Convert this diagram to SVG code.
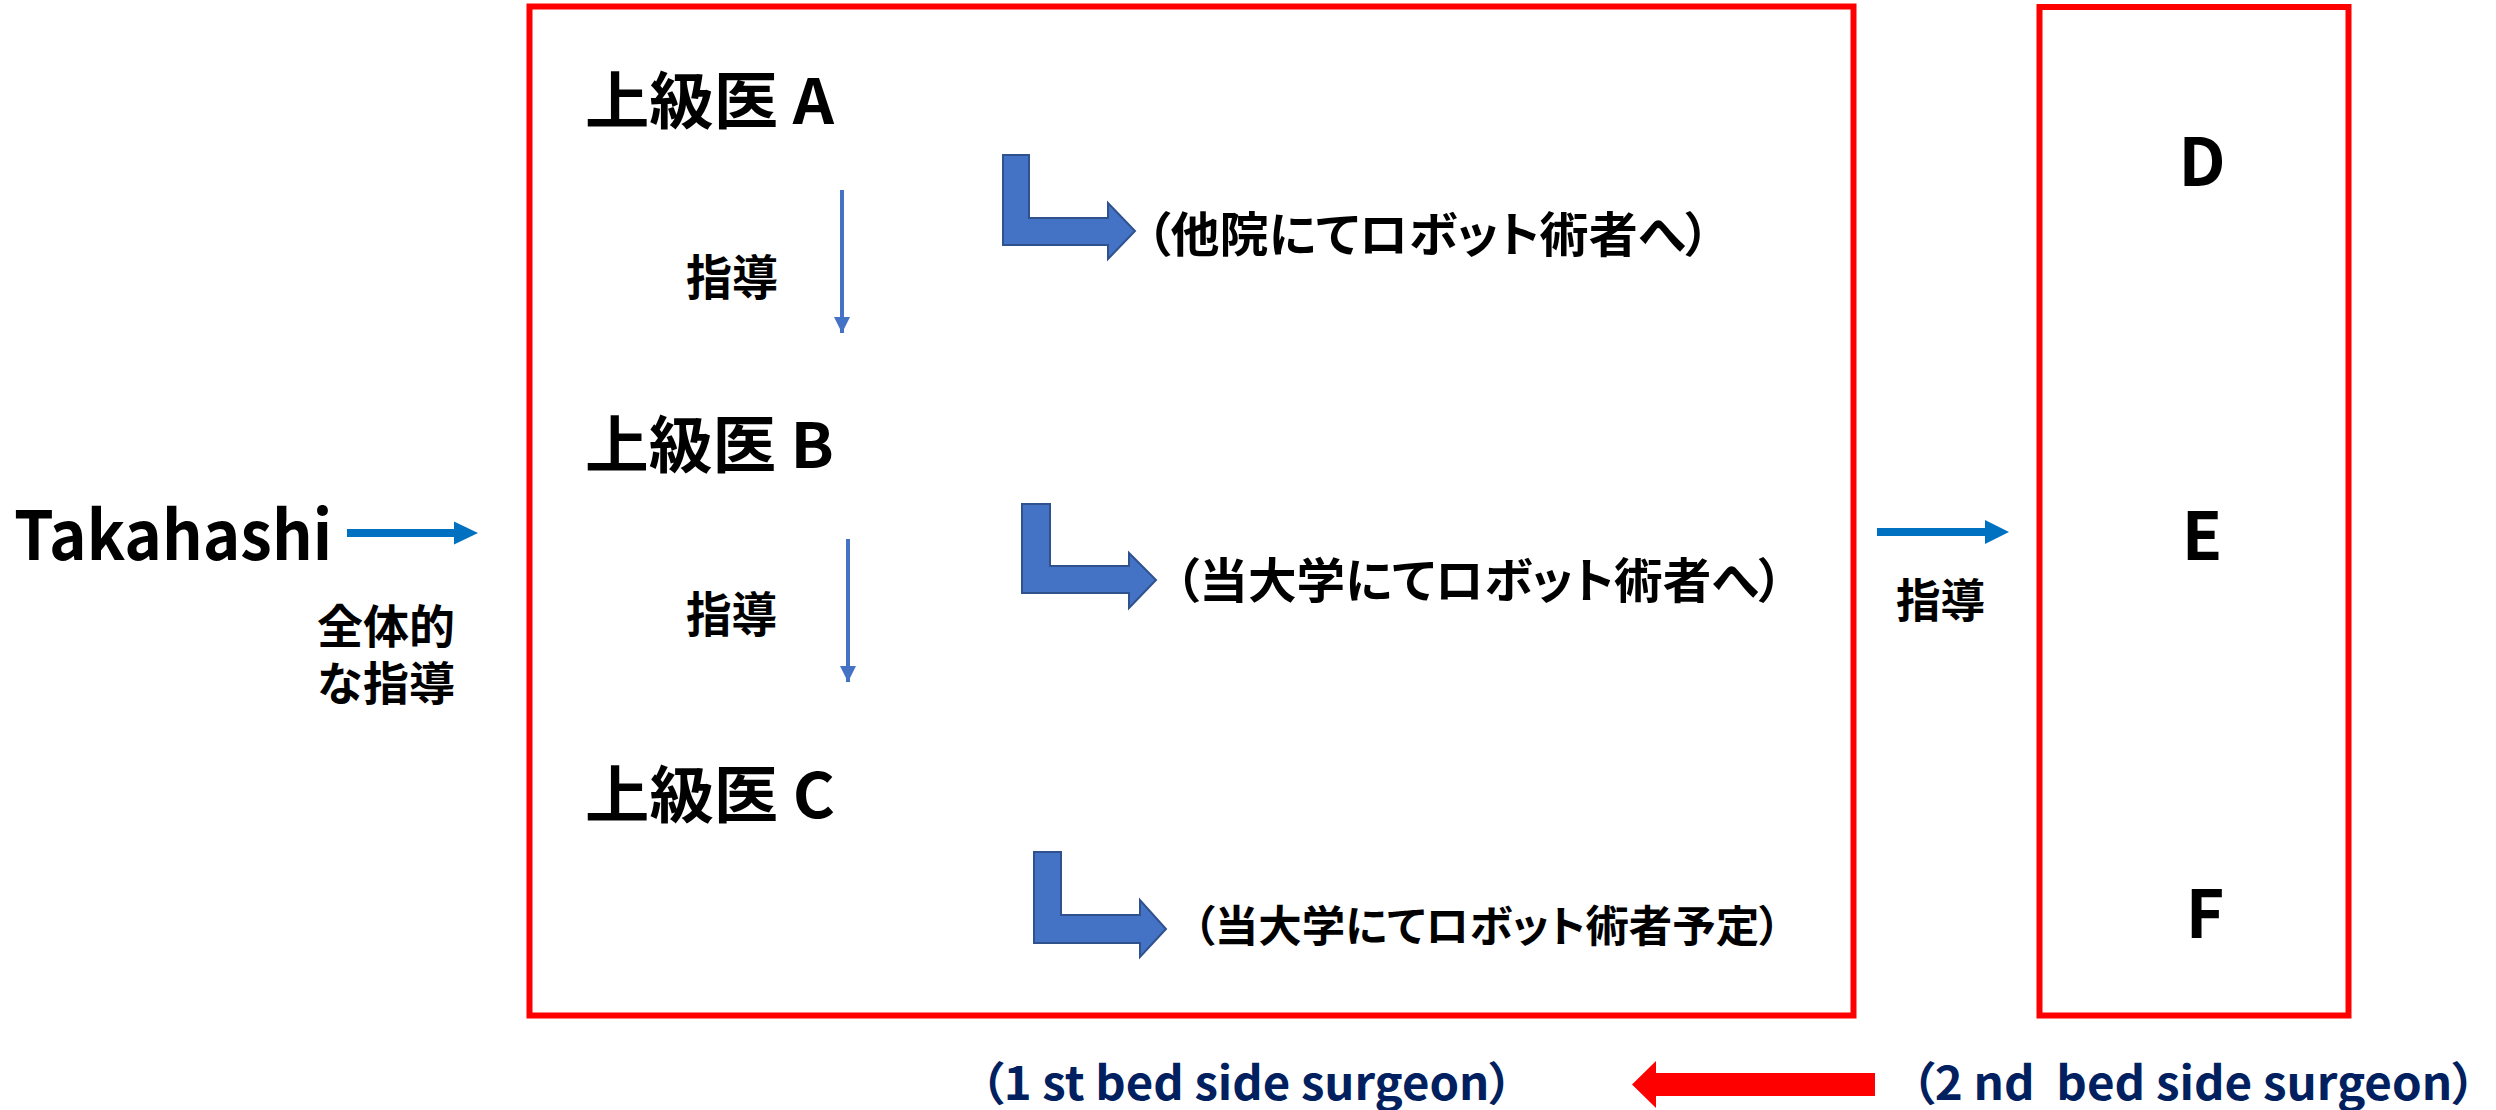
<svg xmlns="http://www.w3.org/2000/svg" width="2496" height="1110" viewBox="0 0 2496 1110">
<style>
  text { font-family: "Noto Sans CJK JP", "Liberation Sans", sans-serif; font-weight: bold; fill: #000; }
  .jp { font-feature-settings: "palt"; }
  .box { fill: none; stroke: #FF0000; stroke-width: 6; }
  .bent { fill: #4472C4; stroke: #2F528F; stroke-width: 2; stroke-linejoin: miter; }
  .navy { fill: #002060; }
</style>
<defs>
  <marker id="hd" viewBox="0 0 10 10" refX="10" refY="5" markerWidth="4" markerHeight="4.2" markerUnits="strokeWidth" orient="auto">
    <path d="M0,0 L10,5 L0,10 Z" fill="#4472C4"/>
  </marker>
</defs>
<rect width="2496" height="1110" fill="#FFFFFF"/>

<g id="takahashi">
  <text x="14" y="560" font-size="68" textLength="318" lengthAdjust="spacingAndGlyphs">Takahashi</text>
  <text x="317" y="643" font-size="46"><tspan x="317" y="643">全体的</tspan><tspan x="317" y="700">な指導</tspan></text>
</g>

<g id="first-bedside">
  <rect class="box" x="529.5" y="6.5" width="1324" height="1009"/>
</g>

<g id="senior-a">
  <text class="jp" x="585" y="124" font-size="62" textLength="249" lengthAdjust="spacingAndGlyphs">上級医 A</text>
  <text class="jp" x="1146" y="252" font-size="48" textLength="564" lengthAdjust="spacingAndGlyphs">（他院にてロボット術者へ）</text>
</g>
<g id="senior-b">
  <text class="jp" x="585" y="468" font-size="62" textLength="249" lengthAdjust="spacingAndGlyphs">上級医 B</text>
  <text class="jp" x="1175" y="598" font-size="48" textLength="608" lengthAdjust="spacingAndGlyphs">（当大学にてロボット術者へ）</text>
</g>
<g id="senior-c">
  <text class="jp" x="585" y="818" font-size="62" textLength="250" lengthAdjust="spacingAndGlyphs">上級医 C</text>
  <text class="jp" x="1193" y="942" font-size="43" textLength="588" lengthAdjust="spacingAndGlyphs">（当大学にてロボット術者予定）</text>
</g>

<g id="label-a-b">
  <text class="jp" x="686" y="295" font-size="48" textLength="92" lengthAdjust="spacingAndGlyphs">指導</text>
</g>
<g id="label-b-c">
  <text class="jp" x="686" y="632" font-size="48" textLength="91" lengthAdjust="spacingAndGlyphs">指導</text>
</g>
<g id="label-right">
  <text class="jp" x="1896" y="617" font-size="46" textLength="89" lengthAdjust="spacingAndGlyphs">指導</text>
</g>

<g id="second-bedside">
  <rect class="box" x="2039.5" y="7" width="309" height="1008.5"/>
  <text x="2202" y="186" font-size="66" text-anchor="middle">D</text>
  <text x="2202" y="560" font-size="66" text-anchor="middle">E</text>
  <text x="2205" y="938" font-size="66" text-anchor="middle">F</text>
</g>

<g id="caption-first">
  <text class="navy jp" x="980" y="1100" font-size="46" textLength="533" lengthAdjust="spacingAndGlyphs">（1 st bed side surgeon）</text>
</g>
<g id="caption-second">
  <text class="navy jp" x="1911" y="1100" font-size="46" textLength="565" lengthAdjust="spacingAndGlyphs" xml:space="preserve">（2 nd  bed side surgeon）</text>
</g>

<g id="connectors">
  <!-- Takahashi -> senior group -->
  <line x1="347" y1="533" x2="456" y2="533" stroke="#0070C0" stroke-width="8"/>
  <polygon points="454,521.5 478,533 454,544.5" fill="#0070C0"/>
  <!-- A -> B -->
  <line x1="842" y1="190" x2="842" y2="333" stroke="#4472C4" stroke-width="4" marker-end="url(#hd)"/>
  <!-- B -> C -->
  <line x1="848" y1="539" x2="848" y2="682" stroke="#4472C4" stroke-width="4" marker-end="url(#hd)"/>
  <!-- first -> second bedside -->
  <line x1="1877" y1="532" x2="1987" y2="532" stroke="#0070C0" stroke-width="8"/>
  <polygon points="1985,520 2009,532 1985,544" fill="#0070C0"/>
  <!-- bent arrows -->
  <polygon class="bent" points="1003,155 1029,155 1029,218 1108,218 1108,203 1135,231 1108,259 1108,245 1003,245"/>
  <polygon class="bent" points="1022,504 1050,504 1050,566 1129,566 1129,553 1156,580 1129,608 1129,593 1022,593"/>
  <polygon class="bent" points="1034,852 1061,852 1061,915 1140,915 1140,900 1166,929 1140,957 1140,943 1034,943"/>
  <!-- red arrow 2nd -> 1st -->
  <polygon points="1875,1073 1656,1073 1656,1061 1632,1084.5 1656,1108 1656,1096 1875,1096" fill="#FF0000"/>
</g>
</svg>
